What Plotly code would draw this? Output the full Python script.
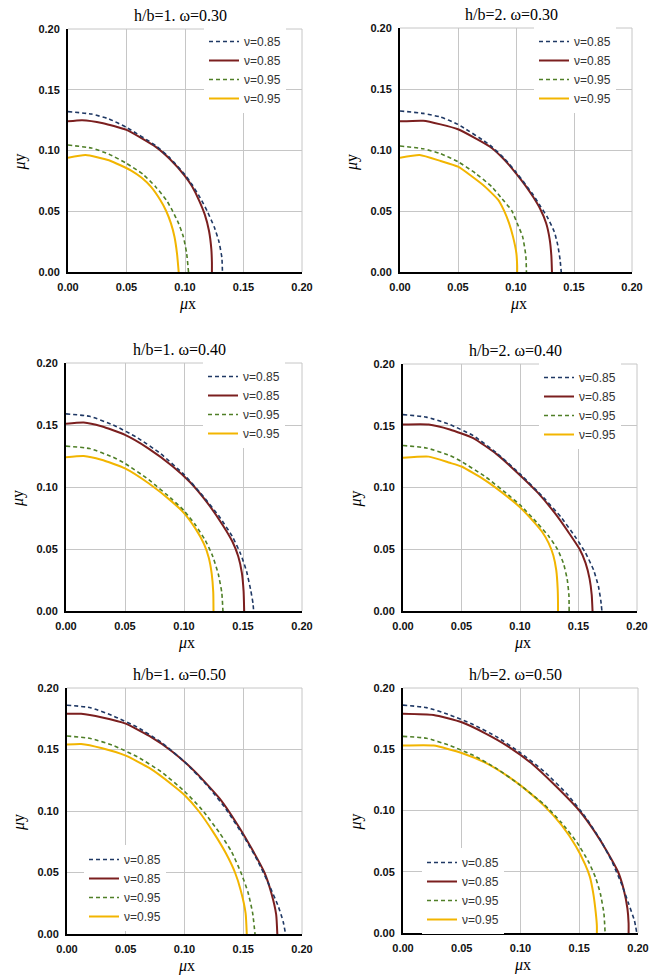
import plotly.graph_objects as go

# ---------------- data ----------------
TITLES = ["h/b=1. ω=0.30", "h/b=2. ω=0.30",
          "h/b=1. ω=0.40", "h/b=2. ω=0.40",
          "h/b=1. ω=0.50", "h/b=2. ω=0.50"]
SERIES_NAMES = ["ν=0.85", "ν=0.85", "ν=0.95", "ν=0.95"]
TICK_VALS = [0.0, 0.05, 0.10, 0.15, 0.20]
AXIS_RANGE = [0.0, 0.20]

# panel 1: h/b=1, w=0.30
p1_blue_x = [0, 0.02, 0.035, 0.05, 0.075, 0.087, 0.10, 0.106, 0.113, 0.119, 0.125, 0.129, 0.1315, 0.132]
p1_blue_y = [0.132, 0.130, 0.126, 0.119, 0.104, 0.094, 0.080, 0.072, 0.061, 0.050, 0.037, 0.025, 0.012, 0]
p1_red_x = [0, 0.012, 0.03, 0.05, 0.075, 0.087, 0.10, 0.106, 0.112, 0.117, 0.1205, 0.1225, 0.123, 0.123]
p1_red_y = [0.124, 0.125, 0.1225, 0.117, 0.103, 0.093, 0.079, 0.0705, 0.059, 0.047, 0.034, 0.019, 0.008, 0]
p1_green_x = [0, 0.02, 0.035, 0.05, 0.064, 0.075, 0.084, 0.0895, 0.0945, 0.0986, 0.1014, 0.103]
p1_green_y = [0.1045, 0.102, 0.097, 0.0894, 0.0805, 0.070, 0.0593, 0.050, 0.040, 0.029, 0.0154, 0]
p1_yellow_x = [0, 0.015, 0.035, 0.054, 0.063, 0.071, 0.079, 0.084, 0.088, 0.091, 0.0932, 0.0946]
p1_yellow_y = [0.094, 0.0963, 0.092, 0.0835, 0.0775, 0.070, 0.059, 0.050, 0.040, 0.029, 0.015, 0]

# panel 2: h/b=2, w=0.30
p2_blue_x = [0, 0.02, 0.035, 0.05, 0.0776, 0.09, 0.10, 0.108, 0.115, 0.121, 0.127, 0.133, 0.136, 0.138, 0.139]
p2_blue_y = [0.132, 0.130, 0.127, 0.121, 0.104, 0.093, 0.082, 0.072, 0.063, 0.054, 0.045, 0.033, 0.022, 0.010, 0]
p2_red_x = [0, 0.02, 0.035, 0.05, 0.0776, 0.09, 0.10, 0.108, 0.115, 0.1207, 0.126, 0.129, 0.1305, 0.131]
p2_red_y = [0.1235, 0.124, 0.121, 0.117, 0.1027, 0.092, 0.0809, 0.071, 0.0612, 0.052, 0.040, 0.027, 0.013, 0]
p2_green_x = [0, 0.02, 0.035, 0.05, 0.065, 0.079, 0.088, 0.0963, 0.101, 0.1057, 0.1085, 0.109]
p2_green_y = [0.1033, 0.101, 0.097, 0.0904, 0.081, 0.070, 0.060, 0.0503, 0.040, 0.029, 0.013, 0]
p2_yellow_x = [0, 0.017, 0.035, 0.05, 0.0716, 0.0845, 0.0897, 0.094, 0.0974, 0.1003, 0.101, 0.101]
p2_yellow_y = [0.0937, 0.0959, 0.091, 0.0863, 0.0713, 0.0593, 0.0503, 0.040, 0.029, 0.0155, 0.005, 0]

# panel 3: h/b=1, w=0.40
p3_blue_x = [0, 0.02, 0.04, 0.06, 0.08, 0.10, 0.115, 0.13, 0.141, 0.148, 0.153, 0.1565, 0.1585, 0.159]
p3_blue_y = [0.159, 0.157, 0.150, 0.140, 0.127, 0.110, 0.094, 0.076, 0.060, 0.046, 0.032, 0.017, 0.006, 0]
p3_red_x = [0, 0.015, 0.03, 0.05, 0.07, 0.09, 0.105, 0.12, 0.133, 0.141, 0.146, 0.149, 0.1505, 0.151]
p3_red_y = [0.151, 0.152, 0.149, 0.142, 0.131, 0.117, 0.104, 0.087, 0.069, 0.056, 0.044, 0.031, 0.016, 0]
p3_green_x = [0, 0.02, 0.04, 0.05, 0.07, 0.09, 0.10, 0.11, 0.118, 0.124, 0.129, 0.132, 0.133]
p3_green_y = [0.133, 0.131, 0.124, 0.119, 0.106, 0.090, 0.081, 0.069, 0.057, 0.045, 0.030, 0.015, 0]
p3_yellow_x = [0, 0.015, 0.03, 0.05, 0.07, 0.09, 0.10, 0.11, 0.117, 0.121, 0.1235, 0.1248, 0.125]
p3_yellow_y = [0.124, 0.125, 0.122, 0.115, 0.103, 0.088, 0.079, 0.066, 0.054, 0.043, 0.030, 0.015, 0]

# panel 4: h/b=2, w=0.40
p4_blue_x = [0, 0.02, 0.04, 0.06, 0.08, 0.10, 0.12, 0.135, 0.148, 0.156, 0.163, 0.167, 0.169, 0.170]
p4_blue_y = [0.159, 0.157, 0.151, 0.142, 0.128, 0.111, 0.092, 0.076, 0.059, 0.047, 0.033, 0.020, 0.009, 0]
p4_red_x = [0, 0.022, 0.04, 0.06, 0.08, 0.10, 0.115, 0.13, 0.142, 0.151, 0.156, 0.1595, 0.1613, 0.162]
p4_red_y = [0.151, 0.151, 0.147, 0.140, 0.127, 0.110, 0.096, 0.079, 0.063, 0.050, 0.039, 0.026, 0.013, 0]
p4_green_x = [0, 0.02, 0.04, 0.05, 0.07, 0.09, 0.10, 0.115, 0.125, 0.132, 0.137, 0.1403, 0.1418, 0.142]
p4_green_y = [0.134, 0.132, 0.126, 0.121, 0.109, 0.094, 0.086, 0.071, 0.060, 0.050, 0.039, 0.026, 0.013, 0]
p4_yellow_x = [0, 0.022, 0.04, 0.05, 0.07, 0.09, 0.10, 0.112, 0.119, 0.1245, 0.1285, 0.131, 0.1322, 0.1325, 0.1325]
p4_yellow_y = [0.124, 0.125, 0.120, 0.117, 0.106, 0.092, 0.084, 0.072, 0.064, 0.055, 0.045, 0.033, 0.018, 0.006, 0]

# panel 5: h/b=1, w=0.50
p5_blue_x = [0, 0.02, 0.04, 0.06, 0.08, 0.10, 0.12, 0.135, 0.15, 0.162, 0.172, 0.180, 0.184, 0.186]
p5_blue_y = [0.186, 0.184, 0.177, 0.168, 0.156, 0.140, 0.120, 0.102, 0.080, 0.060, 0.040, 0.022, 0.010, 0]
p5_red_x = [0, 0.012, 0.03, 0.05, 0.07, 0.09, 0.11, 0.13, 0.145, 0.158, 0.168, 0.174, 0.178, 0.179]
p5_red_y = [0.179, 0.179, 0.176, 0.171, 0.161, 0.148, 0.131, 0.110, 0.089, 0.068, 0.050, 0.033, 0.016, 0]
p5_green_x = [0, 0.02, 0.04, 0.06, 0.08, 0.10, 0.115, 0.13, 0.14, 0.148, 0.154, 0.158, 0.160]
p5_green_y = [0.161, 0.159, 0.153, 0.144, 0.132, 0.116, 0.101, 0.082, 0.067, 0.050, 0.034, 0.017, 0]
p5_yellow_x = [0, 0.012, 0.03, 0.05, 0.07, 0.09, 0.10, 0.112, 0.125, 0.135, 0.143, 0.148, 0.152, 0.153]
p5_yellow_y = [0.154, 0.1545, 0.151, 0.145, 0.135, 0.121, 0.113, 0.100, 0.082, 0.066, 0.050, 0.035, 0.017, 0]

# panel 6: h/b=2, w=0.50
p6_blue_x = [0, 0.02, 0.04, 0.06, 0.08, 0.10, 0.12, 0.14, 0.155, 0.168, 0.178, 0.186, 0.192, 0.197, 0.199]
p6_blue_y = [0.186, 0.184, 0.178, 0.170, 0.160, 0.147, 0.132, 0.113, 0.095, 0.076, 0.058, 0.040, 0.024, 0.010, 0]
p6_red_x = [0, 0.026, 0.05, 0.07, 0.09, 0.11, 0.13, 0.15, 0.163, 0.174, 0.183, 0.188, 0.191, 0.192, 0.192]
p6_red_y = [0.179, 0.178, 0.172, 0.163, 0.152, 0.138, 0.120, 0.100, 0.083, 0.066, 0.050, 0.035, 0.020, 0.008, 0]
p6_green_x = [0, 0.02, 0.04, 0.06, 0.08, 0.10, 0.12, 0.135, 0.148, 0.158, 0.164, 0.168, 0.171, 0.172]
p6_green_y = [0.1605, 0.159, 0.153, 0.145, 0.134, 0.1205, 0.105, 0.090, 0.074, 0.058, 0.045, 0.032, 0.016, 0]
p6_yellow_x = [0, 0.026, 0.05, 0.07, 0.09, 0.10, 0.12, 0.135, 0.147, 0.155, 0.159, 0.162, 0.164, 0.165, 0.165]
p6_yellow_y = [0.153, 0.153, 0.147, 0.139, 0.1275, 0.1205, 0.104, 0.088, 0.071, 0.056, 0.046, 0.032, 0.017, 0.006, 0]

PANELS = [
    (p1_blue_x, p1_blue_y, p1_red_x, p1_red_y, p1_green_x, p1_green_y, p1_yellow_x, p1_yellow_y),
    (p2_blue_x, p2_blue_y, p2_red_x, p2_red_y, p2_green_x, p2_green_y, p2_yellow_x, p2_yellow_y),
    (p3_blue_x, p3_blue_y, p3_red_x, p3_red_y, p3_green_x, p3_green_y, p3_yellow_x, p3_yellow_y),
    (p4_blue_x, p4_blue_y, p4_red_x, p4_red_y, p4_green_x, p4_green_y, p4_yellow_x, p4_yellow_y),
    (p5_blue_x, p5_blue_y, p5_red_x, p5_red_y, p5_green_x, p5_green_y, p5_yellow_x, p5_yellow_y),
    (p6_blue_x, p6_blue_y, p6_red_x, p6_red_y, p6_green_x, p6_green_y, p6_yellow_x, p6_yellow_y),
]

# ---------------- layout / style ----------------
W, H = 654, 976
# plot areas in pixels: (left, right, top, bottom)
BOXES = [(68, 302, 29, 272), (400, 632, 28, 272),
         (66, 302, 363, 611), (403, 637, 364, 611),
         (67, 302, 688, 934), (403, 638, 688, 933)]
# legend top-left in pixels
LEGEND_POS = [(204, 27), (534, 27), (203, 362), (539, 363), (84, 845), (422, 848)]

COLORS = ["#1F3864", "#7B1F1F", "#4F7F27", "#F2B500"]
DASHES = ["4px,3px", "solid", "4px,3px", "solid"]
WIDTHS = [1.6, 2.0, 1.6, 2.0]
DRAW_ORDER = [1, 3, 0, 2]  # solid under dashed
SERIF = "Liberation Serif, Times New Roman, serif"
SANS = "Liberation Sans, Arial, sans-serif"


def px_x(v):
    return v / W


def px_y(v):
    return 1 - v / H


fig = go.Figure()
layout = dict(width=W, height=H, autosize=False,
              margin=dict(l=0, r=0, t=0, b=0, pad=0, autoexpand=False),
              paper_bgcolor="white", plot_bgcolor="white",
              showlegend=True, annotations=[], shapes=[])

for i, panel in enumerate(PANELS):
    n = i + 1
    xa = "x" if n == 1 else f"x{n}"
    ya = "y" if n == 1 else f"y{n}"
    leg = "legend" if n == 1 else f"legend{n}"
    l, r, t, b = BOXES[i]
    common = dict(range=AXIS_RANGE, tickvals=TICK_VALS, tickformat=".2f",
                  showgrid=True, gridcolor="#C6C6C6", gridwidth=1,
                  zeroline=False, showline=True, linecolor="black", linewidth=2,
                  ticks="", fixedrange=True, automargin=False,
                  tickfont=dict(family=SANS, size=11, color="#111", weight="bold"))
    layout["xaxis" if n == 1 else f"xaxis{n}"] = dict(
        domain=[px_x(l), px_x(r)], anchor=ya, ticklabelstandoff=4, **common)
    layout["yaxis" if n == 1 else f"yaxis{n}"] = dict(
        domain=[px_y(b), px_y(t)], anchor=xa, ticklabelstandoff=4, **common)
    lx, ly = LEGEND_POS[i]
    layout[leg] = dict(x=px_x(lx), y=px_y(ly), xanchor="left", yanchor="top",
                       bgcolor="white", borderwidth=0,
                       font=dict(family=SANS, size=12, color="#333"),
                       itemclick=False, itemdoubleclick=False)
    for k in DRAW_ORDER:
        fig.add_trace(go.Scatter(
            x=panel[2 * k], y=panel[2 * k + 1], mode="lines",
            name=SERIES_NAMES[k], legend=leg, legendrank=k + 1,
            line=dict(color=COLORS[k], width=WIDTHS[k], dash=DASHES[k],
                      shape="spline", smoothing=0.5),
            xaxis=xa, yaxis=ya, hoverinfo="skip"))
    # light border on top / right of the plot area
    layout["shapes"].append(dict(type="line", xref=f"{xa} domain", yref=f"{ya} domain",
                                 x0=0, x1=1, y0=1, y1=1, line=dict(color="#C6C6C6", width=1)))
    layout["shapes"].append(dict(type="line", xref=f"{xa} domain", yref=f"{ya} domain",
                                 x0=1, x1=1, y0=0, y1=1, line=dict(color="#C6C6C6", width=1)))
    # title
    layout["annotations"].append(dict(
        text=TITLES[i], x=px_x((l + r) / 2 - 5), y=px_y(t - 14), xref="paper", yref="paper",
        showarrow=False, xanchor="center", yanchor="middle",
        font=dict(family=SERIF, size=16, color="black")))
    # x axis label
    layout["annotations"].append(dict(
        text="<i>μ</i>x", x=px_x((l + r) / 2 + 2), y=px_y(b + 32), xref="paper", yref="paper",
        showarrow=False, xanchor="center", yanchor="middle",
        font=dict(family=SERIF, size=16, color="black")))
    # y axis label
    layout["annotations"].append(dict(
        text="<i>μ</i>y", x=px_x(l - 48), y=px_y((t + b) / 2 + 12), xref="paper", yref="paper",
        showarrow=False, xanchor="center", yanchor="middle", textangle=-90,
        font=dict(family=SERIF, size=16, color="black")))

fig.update_layout(**layout)
fig.write_html("out.html", config={"displayModeBar": False},
               post_script="document.body.style.margin='0px';document.body.style.padding='0px';")
